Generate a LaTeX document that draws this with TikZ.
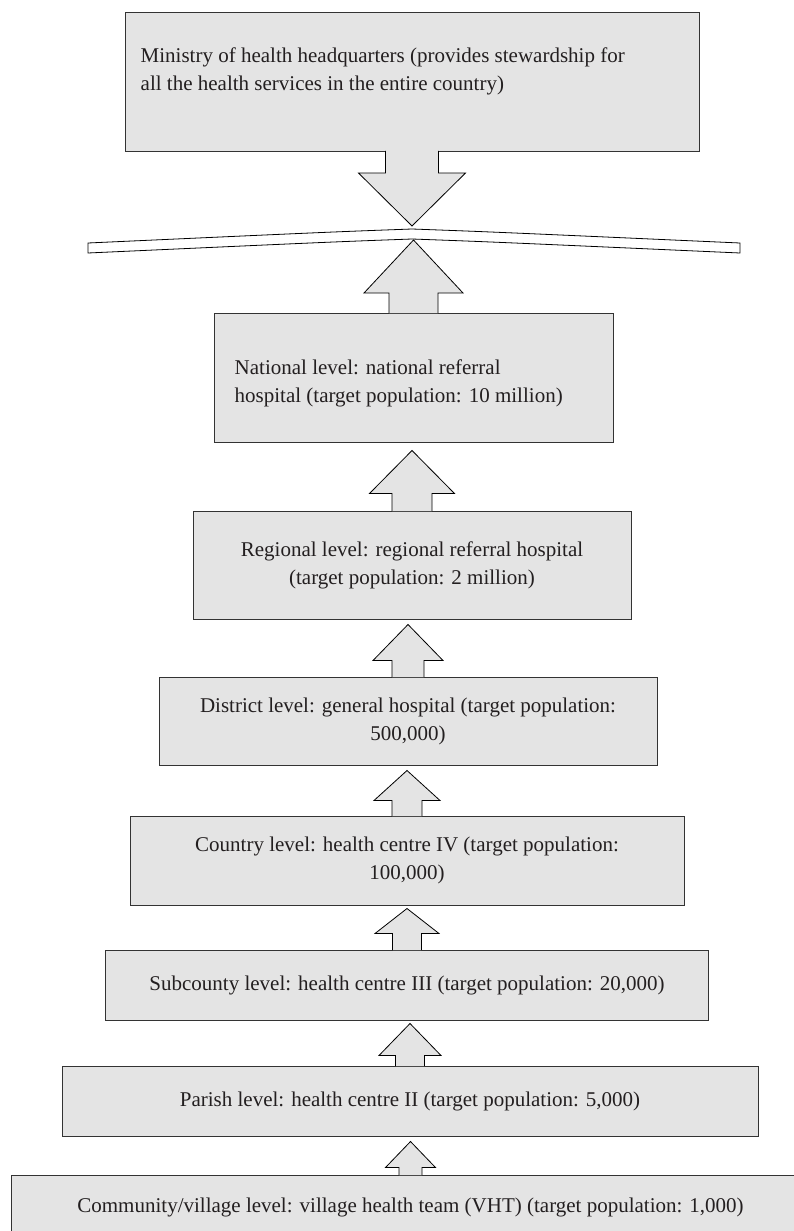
\documentclass[tikz,border=0pt]{standalone}
\usepackage{fontspec}
\setmainfont{Liberation Serif}
\usetikzlibrary{calc}

\definecolor{boxgray}{RGB}{228,228,228}
\definecolor{inkgray}{RGB}{35,31,32}

% block arrow pointing up from #1 to just below #2
% #3 gap, #4 half stem, #5 half head, #6 head length
\newcommand{\levelarrow}[6]{%
  \filldraw[blockarr] ($(#1)+(-#4,-0.6)$) |- ($(#1 |- #2)+(-#5,-#3-#6)$)
    -- ($(#1 |- #2)+(0,-#3)$)
    -- ($(#1 |- #2)+(#5,-#3-#6)$) -| ($(#1)+(#4,-0.6)$);
}
% same, pointing down
\newcommand{\topdownarrow}[6]{%
  \filldraw[blockarr] ($(#1)+(-#4,0.6)$) |- ($(#1 |- #2)+(-#5,#3+#6)$)
    -- ($(#1 |- #2)+(0,#3)$)
    -- ($(#1 |- #2)+(#5,#3+#6)$) -| ($(#1)+(#4,0.6)$);
}

\begin{document}
\begin{tikzpicture}[x=1pt, y=1pt, font=\fontsize{21}{28}\selectfont, text=inkgray,
    level/.style={draw=black!80, line width=1pt, fill=boxgray, inner sep=0pt, align=center},
    blockarr/.style={draw=black, line width=0.8pt, fill=boxgray},
    shelf/.style={draw=black, line width=0.8pt, fill=white}]
  \useasboundingbox (0,0) rectangle (794,-1231);

  % levels
  \node[level, minimum width=574, minimum height=138,
    label={[anchor=north west, align=left, inner sep=0pt, xshift=16, yshift=-35]north west:Ministry of health headquarters (provides stewardship for\\all the health services in the entire country)}] (moh) at (412,-82) {};
  \node[level, minimum width=399, minimum height=129,
    label={[anchor=north west, align=left, inner sep=0pt, xshift=21, yshift=-47]north west:National level: national referral\\hospital (target population: 10 million)}] (natl) at (413.5,-377.5) {};
  \node[level, minimum width=438, minimum height=108] (regl) at (412,-565) {Regional level: regional referral hospital\\(target population: 2 million)};
  \node[level, minimum width=498, minimum height=88] (dist) at (408,-721) {District level: general hospital (target population:\\500,000)};
  \node[level, minimum width=554, minimum height=89] (ctry) at (407,-860.5) {Country level: health centre IV (target population:\\100,000)};
  \node[level, minimum width=603, minimum height=70] (subc) at (407,-985) {Subcounty level: health centre III (target population: 20,000)};
  \node[level, minimum width=696, minimum height=70] (parish) at (410,-1101) {Parish level: health centre II (target population: 5,000)};
  \node[level, minimum width=799, minimum height=64] (comm) at (410.5,-1207) {Community/village level: village health team (VHT) (target population: 1,000)};

  % bent shelf under the ministry
  \coordinate (peak) at (412,-229);
  \coordinate (peakb) at (412,-239);
  \filldraw[shelf] (88,-243) .. controls (330,-232) .. (peak) .. controls (494,-232) .. (740,-243)
    -- (740,-253) .. controls (494,-242) .. (peakb) .. controls (330,-242) .. (88,-253) -- cycle;

  % arrows
  \topdownarrow{moh.south}{peak}{3}{26.5}{53.5}{53}
  \levelarrow{natl.north}{peakb}{1}{24.5}{49.5}{53}
  \levelarrow{regl.north}{natl.south}{8}{20}{42.5}{43}
  \levelarrow{dist.north}{regl.south}{5}{16}{35}{36}
  \levelarrow{ctry.north}{dist.south}{5}{15}{33}{30}
  \levelarrow{subc.north}{ctry.south}{3}{14.5}{32}{25}
  \levelarrow{parish.north}{subc.south}{3}{14.5}{31}{32}
  \levelarrow{comm.north}{parish.south}{5}{11.5}{25}{26}
\end{tikzpicture}
\end{document}
